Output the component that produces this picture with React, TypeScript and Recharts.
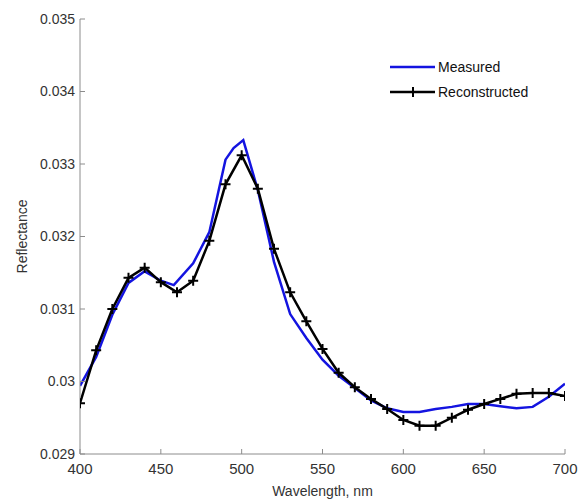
import React from 'react';
import { LineChart, Line, XAxis, YAxis, Legend } from 'recharts';

// Measured reflectance (blue)
const measuredWl = [400, 410, 420, 430, 440, 450, 458, 470, 480, 490, 495, 501, 510, 520, 530, 540, 550, 560, 570, 580, 590, 600, 610, 620, 630, 640, 650, 660, 670, 680, 690, 700];
const measuredVals = [0.02994, 0.03034, 0.03092, 0.03136, 0.03152, 0.03139, 0.03133, 0.03163, 0.03206, 0.03306, 0.03322, 0.03333, 0.03264, 0.03165, 0.03093, 0.0306, 0.0303, 0.03008, 0.02991, 0.02974, 0.02963, 0.02958, 0.02958, 0.02962, 0.02965, 0.02969, 0.02969, 0.02966, 0.02963, 0.02965, 0.02979, 0.02997];

// Reconstructed reflectance (black, + markers every 10 nm)
const reconWl = [400, 410, 420, 430, 440, 450, 460, 470, 480, 490, 500, 510, 520, 530, 540, 550, 560, 570, 580, 590, 600, 610, 620, 630, 640, 650, 660, 670, 680, 690, 700];
const reconVals = [0.0297, 0.03043, 0.031, 0.03143, 0.03157, 0.03137, 0.03123, 0.03139, 0.03194, 0.03272, 0.03312, 0.03266, 0.03183, 0.03123, 0.03083, 0.03045, 0.03012, 0.02992, 0.02976, 0.02962, 0.02947, 0.02939, 0.02939, 0.0295, 0.02961, 0.02969, 0.02976, 0.02983, 0.02984, 0.02984, 0.0298];

const xTicks = [400, 450, 500, 550, 600, 650, 700];
const yTicks = [0.029, 0.03, 0.031, 0.032, 0.033, 0.034, 0.035];
const yTickLabels = ['0.029', '0.03', '0.031', '0.032', '0.033', '0.034', '0.035'];

const seriesNames = ['Measured', 'Reconstructed'];

const measuredData = measuredWl.map((w, i) => ({ wl: w, v: measuredVals[i] }));
const reconData = reconWl.map((w, i) => ({ wl: w, v: reconVals[i] }));

const FONT = '"Liberation Sans", Arial, sans-serif';
const TEXT = '#333';
const AXIS = '#8c8c8c';
const BLUE = '#1414e0';

const fmtY = (v: number) => {
  let best = 0;
  yTicks.forEach((t, i) => {
    if (Math.abs(t - v) < Math.abs(yTicks[best] - v)) best = i;
  });
  return yTickLabels[best];
};

const PlusDot = (props: any) => {
  const { cx, cy, index } = props;
  if (cx == null || cy == null) return null;
  return (
    <path key={index} d={`M${cx - 5},${cy}h10M${cx},${cy - 5}v10`} stroke="#000" strokeWidth={2} fill="none" />
  );
};

const YLabel = (props: any) => {
  const { viewBox } = props;
  const x = viewBox.x + 22;
  const y = viewBox.y + viewBox.height / 2;
  return (
    <text x={x} y={y} transform={`rotate(-90 ${x} ${y})`} textAnchor="middle" dominantBaseline="central" fill={TEXT} fontSize={14} fontFamily={FONT}>
      Reflectance
    </text>
  );
};

const LegendBox = () => (
  <svg width={160} height={50} style={{ display: 'block' }}>
    <line x1={2} y1={12} x2={47} y2={12} stroke={BLUE} strokeWidth={2.5} />
    <text x={50} y={12} dominantBaseline="central" fontSize={14} fill="#111" fontFamily={FONT}>{seriesNames[0]}</text>
    <line x1={2} y1={37} x2={47} y2={37} stroke="#000" strokeWidth={2.5} />
    <path d="M20,37h10M25,32v10" stroke="#000" strokeWidth={2} />
    <text x={50} y={37} dominantBaseline="central" fontSize={14} fill="#111" fontFamily={FONT}>{seriesNames[1]}</text>
  </svg>
);

export default function App() {
  return (
    <div style={{ position: 'absolute', left: 0, top: 0, width: 583, height: 501, background: '#fff' }}>
      <LineChart width={583} height={501} margin={{ top: 19, right: 18, bottom: 0, left: 0 }}>
        <XAxis
          dataKey="wl"
          type="number"
          domain={[400, 700]}
          ticks={xTicks}
          allowDataOverflow
          height={47}
          tickSize={-5}
          tickMargin={14}
          stroke={AXIS}
          tick={{ fill: TEXT, fontSize: 15, fontFamily: FONT }}
          label={{ value: 'Wavelength, nm', position: 'insideBottom', offset: 5, fill: TEXT, fontSize: 14, fontFamily: FONT }}
        />
        <XAxis
          xAxisId="top"
          orientation="top"
          type="number"
          domain={[400, 700]}
          ticks={xTicks}
          height={0}
          tickSize={-5}
          stroke={AXIS}
          tickFormatter={() => ''}
        />
        <YAxis
          type="number"
          domain={[0.029, 0.035]}
          ticks={yTicks}
          allowDataOverflow
          width={80}
          tickSize={-5}
          tickMargin={10}
          stroke={AXIS}
          tickFormatter={fmtY}
          tick={{ fill: TEXT, fontSize: 14, fontFamily: FONT }}
          label={<YLabel />}
        />
        <YAxis
          yAxisId="right"
          orientation="right"
          type="number"
          domain={[0.029, 0.035]}
          ticks={yTicks}
          width={0}
          tickSize={-5}
          stroke={AXIS}
          tickFormatter={() => ''}
        />
        <Legend
          layout="horizontal"
          verticalAlign="middle"
          align="center"
          content={() => <LegendBox />}
          wrapperStyle={{ position: 'absolute', left: 388, top: 55, width: 160, height: 50 }}
        />
        <Line
          data={measuredData}
          dataKey="v"
          name={seriesNames[0]}
          type="linear"
          stroke={BLUE}
          strokeWidth={2.5}
          dot={false}
          isAnimationActive={false}
        />
        <Line
          data={reconData}
          dataKey="v"
          name={seriesNames[1]}
          type="linear"
          stroke="#000"
          strokeWidth={2.5}
          dot={<PlusDot />}
          isAnimationActive={false}
        />
      </LineChart>
    </div>
  );
}
